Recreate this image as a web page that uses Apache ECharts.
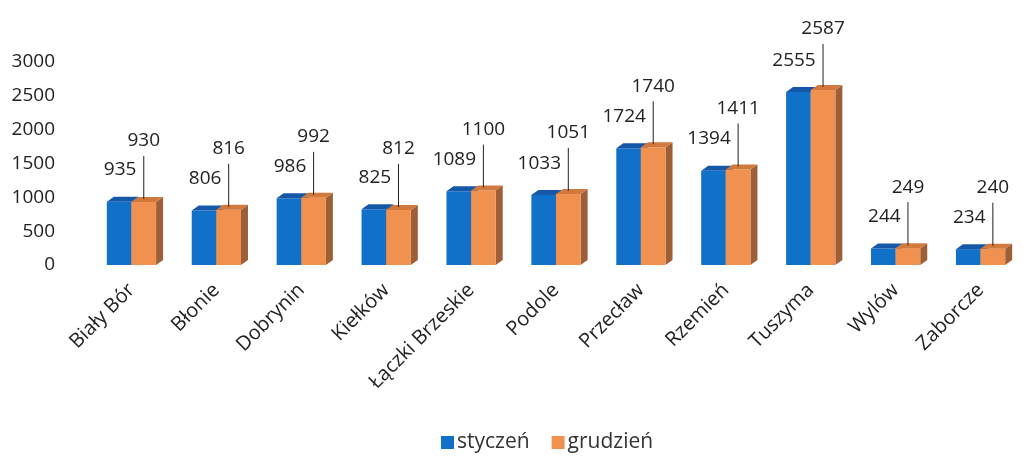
<!DOCTYPE html>
<html>
<head>
<meta charset="utf-8">
<script src="https://cdn.jsdelivr.net/npm/echarts@6/dist/echarts.min.js"></script>
<style>
  html, body { margin: 0; padding: 0; background: #fff; }
  #main { width: 1023px; height: 457px; }
</style>
</head>
<body>
<div id="main"></div>
<script>
var categories = ['Biały Bór', 'Błonie', 'Dobrynin', 'Kiełków', 'Łączki Brzeskie', 'Podole', 'Przecław', 'Rzemień', 'Tuszyma', 'Wylów', 'Zaborcze'];
var styczen = [935, 806, 986, 825, 1089, 1033, 1724, 1394, 2555, 244, 234];
var grudzien = [930, 816, 992, 812, 1100, 1051, 1740, 1411, 2587, 249, 240];
var yTicks = [0, 500, 1000, 1500, 2000, 2500, 3000];

var FONT = '"Open Sans", sans-serif';

// 3D-looking bar drawn with the axis scales
function bar3d(side, front, top, right) {
    return function (params, api) {
        var idx = api.value(0);
        var val = api.value(1);
        var band = api.size([1, 0])[0];
        var w = band * 0.29;
        var base = api.coord([idx, 0]);
        var peak = api.coord([idx, val]);
        var cx = base[0];
        var x0 = side < 0 ? cx - w : cx;
        var x1 = x0 + w;
        var yb = base[1];
        var yt = peak[1];
        var dx = 7, dy = 5;
        var kids = [
            {type: 'polygon', shape: {points: [[x1, yt], [x1 + dx, yt - dy], [x1 + dx, yb - dy], [x1, yb]]}, style: {fill: right}},
            {type: 'rect', shape: {x: x0, y: yt, width: w, height: yb - yt}, style: {fill: front}},
            {type: 'polygon', shape: {points: [[x0, yt], [x1, yt], [x1 + dx, yt - dy], [x0 + dx, yt - dy]]}, style: {fill: top}}
        ];
        var label = String(val);
        if (side < 0) {
            kids.push({type: 'text', style: {x: cx + 5, y: yt - 32, text: label, align: 'right', verticalAlign: 'middle', fill: '#222', font: '19px ' + FONT}});
        } else {
            var lx = cx + w / 2;
            kids.push({type: 'line', shape: {x1: lx, y1: yt - 46, x2: lx, y2: yt - 3}, style: {stroke: '#222', lineWidth: 1}});
            kids.push({type: 'text', style: {x: lx, y: yt - 61, text: label, align: 'center', verticalAlign: 'middle', fill: '#222', font: '19px ' + FONT}});
        }
        return {type: 'group', children: kids};
    };
}

function toData(arr) {
    return arr.map(function (v, i) { return [i, v]; });
}

var chart = echarts.init(document.getElementById('main'));
chart.setOption({
    animation: false,
    textStyle: {fontFamily: FONT},
    grid: {left: 89, top: 62, width: 947, bottom: 192, containLabel: false},
    legend: {
        top: 427,
        left: 436,
        itemWidth: 13,
        itemHeight: 13,
        itemGap: 22,
        icon: 'rect',
        textStyle: {fontSize: 21, color: '#333', fontFamily: FONT, padding: [0, 0, 0, -2]},
        data: ['styczeń', 'grudzień']
    },
    xAxis: {
        type: 'category',
        data: categories,
        axisLine: {show: false},
        axisTick: {show: false},
        axisLabel: {rotate: 45, fontSize: 20, color: '#222', margin: 22, interval: 0, fontFamily: FONT}
    },
    yAxis: {
        type: 'value',
        min: yTicks[0],
        max: yTicks[yTicks.length - 1],
        interval: 500,
        splitLine: {show: false},
        axisLine: {show: false},
        axisTick: {show: false},
        axisLabel: {fontSize: 19, color: '#222', margin: 34, fontFamily: FONT, formatter: function (v) { return String(v); }}
    },
    series: [
        {
            name: 'styczeń',
            type: 'custom',
            itemStyle: {color: '#1170C8'},
            encode: {x: 0, y: 1},
            renderItem: bar3d(-1, '#1170C8', '#1658A8', '#0C4E92'),
            data: toData(styczen)
        },
        {
            name: 'grudzień',
            type: 'custom',
            itemStyle: {color: '#F0914F'},
            encode: {x: 0, y: 1},
            renderItem: bar3d(1, '#F0914F', '#D27A3E', '#9E5F38'),
            data: toData(grudzien)
        }
    ]
});
</script>
</body>
</html>
